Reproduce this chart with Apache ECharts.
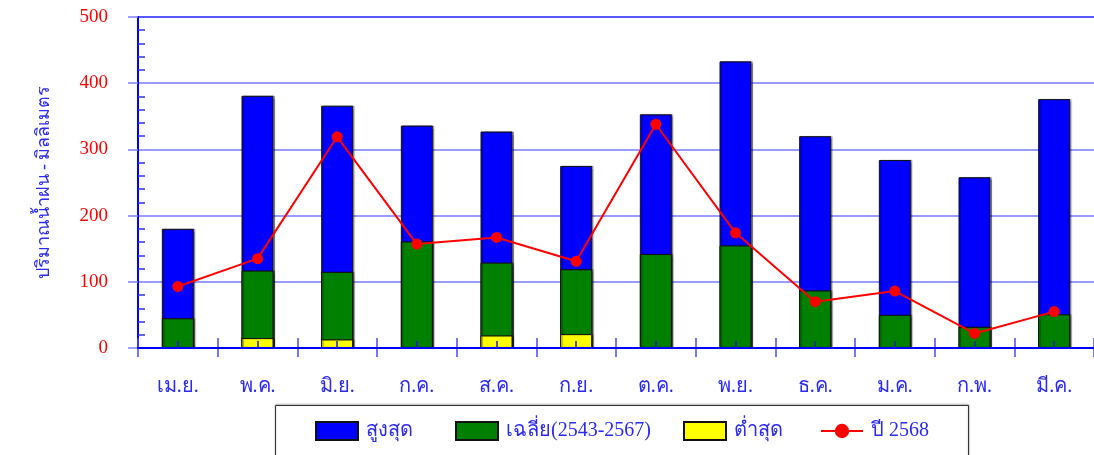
<!DOCTYPE html>
<html><head><meta charset="utf-8">
<script src="https://cdn.jsdelivr.net/npm/echarts@6/dist/echarts.min.js"></script>
<style>html,body{margin:0;padding:0;background:#fff}#c{width:1094px;height:455px}</style>
</head><body><div id="c"></div>
<script>
const categories = ['เม.ย.','พ.ค.','มิ.ย.','ก.ค.','ส.ค.','ก.ย.','ต.ค.','พ.ย.','ธ.ค.','ม.ค.','ก.พ.','มี.ค.'];
const maxValues = [180, 381, 366, 336, 327, 275, 353, 433, 320, 284, 258, 376];
const avgValues = [45, 117, 115, 161, 129, 119, 142, 155, 87, 50, 32, 51];
const minValues = [0, 15, 13, 0, 19, 21, 0, 0, 0, 0, 0, 0];
const year2568 = [93, 135, 319, 157, 167, 131, 338, 174, 70, 86, 22, 55];
const yTicks = [0, 100, 200, 300, 400, 500];

const TXT = '#2a2af0';
const FONT = '"Liberation Serif", "DejaVu Serif", serif';
const chart = echarts.init(document.getElementById('c'), null, {renderer: 'canvas'});
const barStyle = (c) => ({color: c, borderColor: '#111', borderWidth: 1, shadowColor: 'rgba(0,0,0,0.35)', shadowOffsetX: 1.5, shadowBlur: 1});
const legendBase = {top: 421, padding: 0, itemWidth: 42, itemHeight: 18, itemGap: 0,
  textStyle: {color: TXT, fontSize: 20, fontFamily: FONT, padding: [0,0,0,3]}, selectedMode: false};
chart.setOption({
  animation: false,
  backgroundColor: '#fff',
  graphic: [{type: 'rect', left: 275, top: 405, shape: {width: 693, height: 60},
    style: {fill: '#fff', stroke: '#333', lineWidth: 1, shadowColor: 'rgba(0,0,0,0.3)', shadowBlur: 2, shadowOffsetY: -1}, z: -1}],
  grid: {left: 138, top: 17, width: 960, height: 331, containLabel: false},
  xAxis: [
    {type: 'category', data: categories, position: 'bottom', offset: -10,
     axisLine: {show: false},
     axisTick: {show: true, length: 19, inside: false, lineStyle: {color: '#4848ff', width: 1.5}},
     axisLabel: {color: TXT, fontSize: 20, fontFamily: FONT, margin: 39}},
    {type: 'category', data: categories, position: 'top', offset: -331, z: 10,
     axisLine: {show: true, lineStyle: {color: '#0000ff', width: 2}},
     axisLabel: {show: false},
     axisTick: {show: true, alignWithLabel: true, length: 7, inside: false, lineStyle: {color: '#2020c0', width: 1.5}}}
  ],
  yAxis: {type: 'value', min: yTicks[0], max: yTicks[yTicks.length-1], interval: 100,
    name: 'ปริมาณน้ำฝน - มิลลิเมตร', nameLocation: 'middle', nameGap: 85, nameRotate: 90,
    nameTextStyle: {color: TXT, fontSize: 18, fontFamily: FONT},
    axisLine: {show: true, lineStyle: {color: '#0000ff', width: 2}},
    axisTick: {show: true, length: 10, lineStyle: {color: '#8080ff', width: 1.5}},
    minorTick: {show: true, splitNumber: 5, length: -7, lineStyle: {color: '#3030ff', width: 1.5}},
    axisLabel: {color: '#ff0000', fontSize: 19, fontFamily: FONT, margin: 30},
    splitLine: {show: true, lineStyle: {color: ['#0000ff', '#7878ff', '#7878ff', '#7878ff', '#7878ff', '#2020ff'], width: 1.5}}},
  legend: [
    Object.assign({}, legendBase, {left: 315, data: [{name: 'สูงสุด', icon: 'rect'}]}),
    Object.assign({}, legendBase, {left: 455, data: [{name: 'เฉลี่ย(2543-2567)', icon: 'rect'}]}),
    Object.assign({}, legendBase, {left: 683, data: [{name: 'ต่ำสุด', icon: 'rect'}]}),
    Object.assign({}, legendBase, {left: 820, data: ['ปี 2568']})
  ],
  series: [
    {name: 'สูงสุด', type: 'bar', data: maxValues, barWidth: 32, barGap: '-100%', itemStyle: barStyle('#0000ff'), z: 2},
    {name: 'เฉลี่ย(2543-2567)', type: 'bar', data: avgValues, barWidth: 32, barGap: '-100%', itemStyle: barStyle('#008000'), z: 3},
    {name: 'ต่ำสุด', type: 'bar', data: minValues, barWidth: 32, barGap: '-100%', itemStyle: barStyle('#ffff00'), z: 4},
    {name: 'ปี 2568', type: 'line', data: year2568, symbol: 'circle', symbolSize: 11,
     lineStyle: {color: '#ff0000', width: 2}, itemStyle: {color: '#ff0000'}, z: 5}
  ]
});
</script></body></html>
